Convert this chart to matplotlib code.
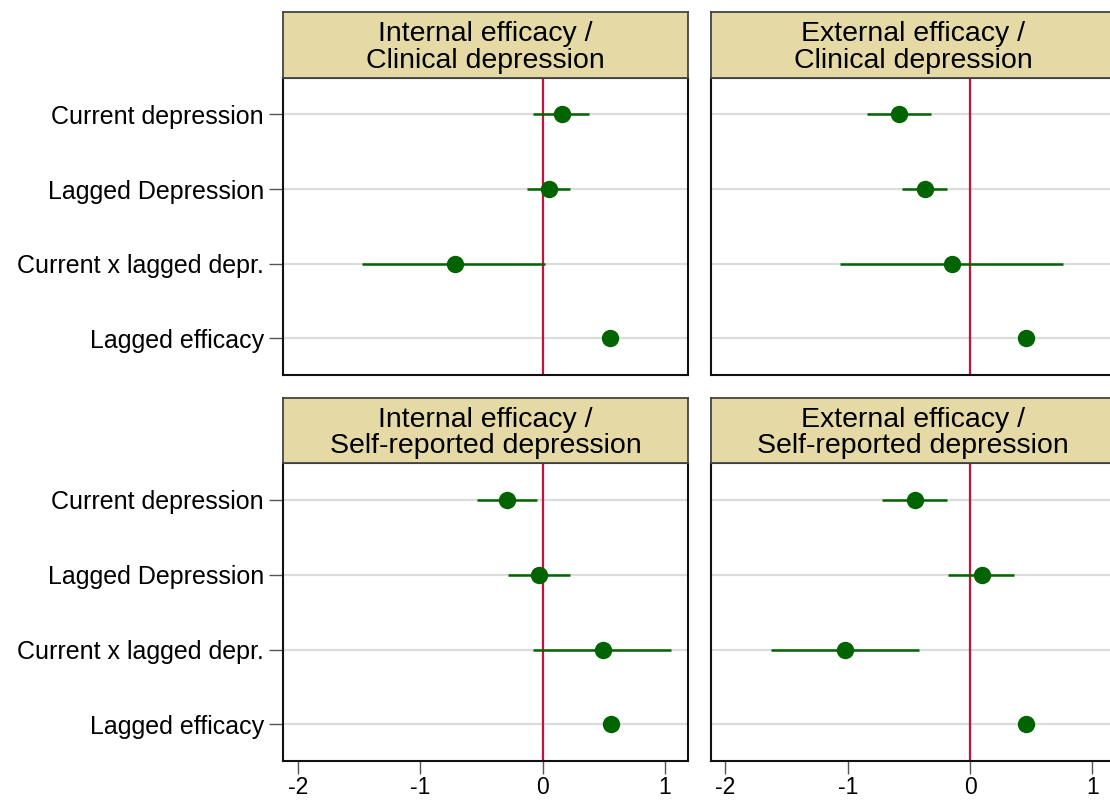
import matplotlib.pyplot as plt

plt.rcParams['font.family'] = ['Liberation Sans', 'DejaVu Sans']
plt.rcParams['axes.unicode_minus'] = False

# Libellés des variables (de haut en bas)
variables = ["Current depression", "Lagged Depression", "Current x lagged depr.", "Lagged efficacy"]

# Titres des panneaux
titles = [
    "Internal efficacy /\nClinical depression",
    "External efficacy /\nClinical depression",
    "Internal efficacy /\nSelf-reported depression",
    "External efficacy /\nSelf-reported depression",
]

# Coefficients et intervalles de confiance
int_clin_coef = [0.16, 0.05, -0.72, 0.55]
int_clin_low = [-0.08, -0.13, -1.48, 0.55]
int_clin_high = [0.38, 0.22, 0.02, 0.55]

ext_clin_coef = [-0.58, -0.37, -0.15, 0.46]
ext_clin_low = [-0.84, -0.56, -1.06, 0.46]
ext_clin_high = [-0.32, -0.19, 0.76, 0.46]

int_self_coef = [-0.29, -0.03, 0.49, 0.56]
int_self_low = [-0.54, -0.28, -0.08, 0.56]
int_self_high = [-0.05, 0.22, 1.05, 0.56]

ext_self_coef = [-0.45, 0.10, -1.02, 0.46]
ext_self_low = [-0.72, -0.18, -1.63, 0.46]
ext_self_high = [-0.19, 0.36, -0.42, 0.46]

panels = [
    (int_clin_coef, int_clin_low, int_clin_high),
    (ext_clin_coef, ext_clin_low, ext_clin_high),
    (int_self_coef, int_self_low, int_self_high),
    (ext_self_coef, ext_self_low, ext_self_high),
]

W, H = 1110, 802
fig = plt.figure(figsize=(W / 100, H / 100), dpi=100)

# positions en pixels : (haut du graphe, bas du graphe, haut de l'entête)
lefts = [283.3, 710.7]
width = 404.4
rows = [(77.7, 375.0, 12.3), (463.3, 761.0, 397.7)]

green = "#006400"
red = "#C8103C"
header_color = "#E5D9A6"

for k, (coef, low, high) in enumerate(panels):
    r, c = divmod(k, 2)
    top, bottom, htop = rows[r]
    left = lefts[c]
    ax = fig.add_axes([left / W, 1 - bottom / H, width / W, (bottom - top) / H])
    hax = fig.add_axes([left / W, 1 - top / H, width / W, (top - htop) / H])

    ypos = list(range(1, len(variables) + 1))
    for y in ypos:
        ax.axhline(y, color="#DCDCDC", lw=1.6, zorder=1)
    ax.axvline(0, color=red, lw=1.6, zorder=2)
    ax.hlines(ypos, low, high, color=green, lw=1.8, zorder=3)
    ax.plot(coef, ypos, "o", color=green, ms=11.5, zorder=4)

    ax.set_xlim(-2.12, 1.186)
    ax.set_ylim(4.49, 0.51)
    ax.set_xticks([-2, -1, 0, 1])
    ax.set_yticks(ypos)
    if c == 0:
        ax.set_yticklabels(variables, fontsize=18)
        ax.tick_params(axis="y", length=10, width=1, color="#555555", pad=4)
    else:
        ax.set_yticklabels([])
        ax.tick_params(axis="y", length=0)
    if r == 1:
        ax.tick_params(axis="x", labelsize=16.5, length=9, width=1, color="#555555", pad=2)
    else:
        ax.set_xticklabels([])
        ax.tick_params(axis="x", length=0)
    for s in ax.spines.values():
        s.set_linewidth(1.5)
        s.set_color("#111111")

    hax.set_facecolor(header_color)
    hax.set_xticks([])
    hax.set_yticks([])
    for s in hax.spines.values():
        s.set_linewidth(1.3)
        s.set_color("#444444")
    hax.text(0.5, 0.46, titles[k], ha="center", va="center", fontsize=20.5,
             linespacing=1.03, transform=hax.transAxes)

fig.savefig("out.png", dpi=100)
